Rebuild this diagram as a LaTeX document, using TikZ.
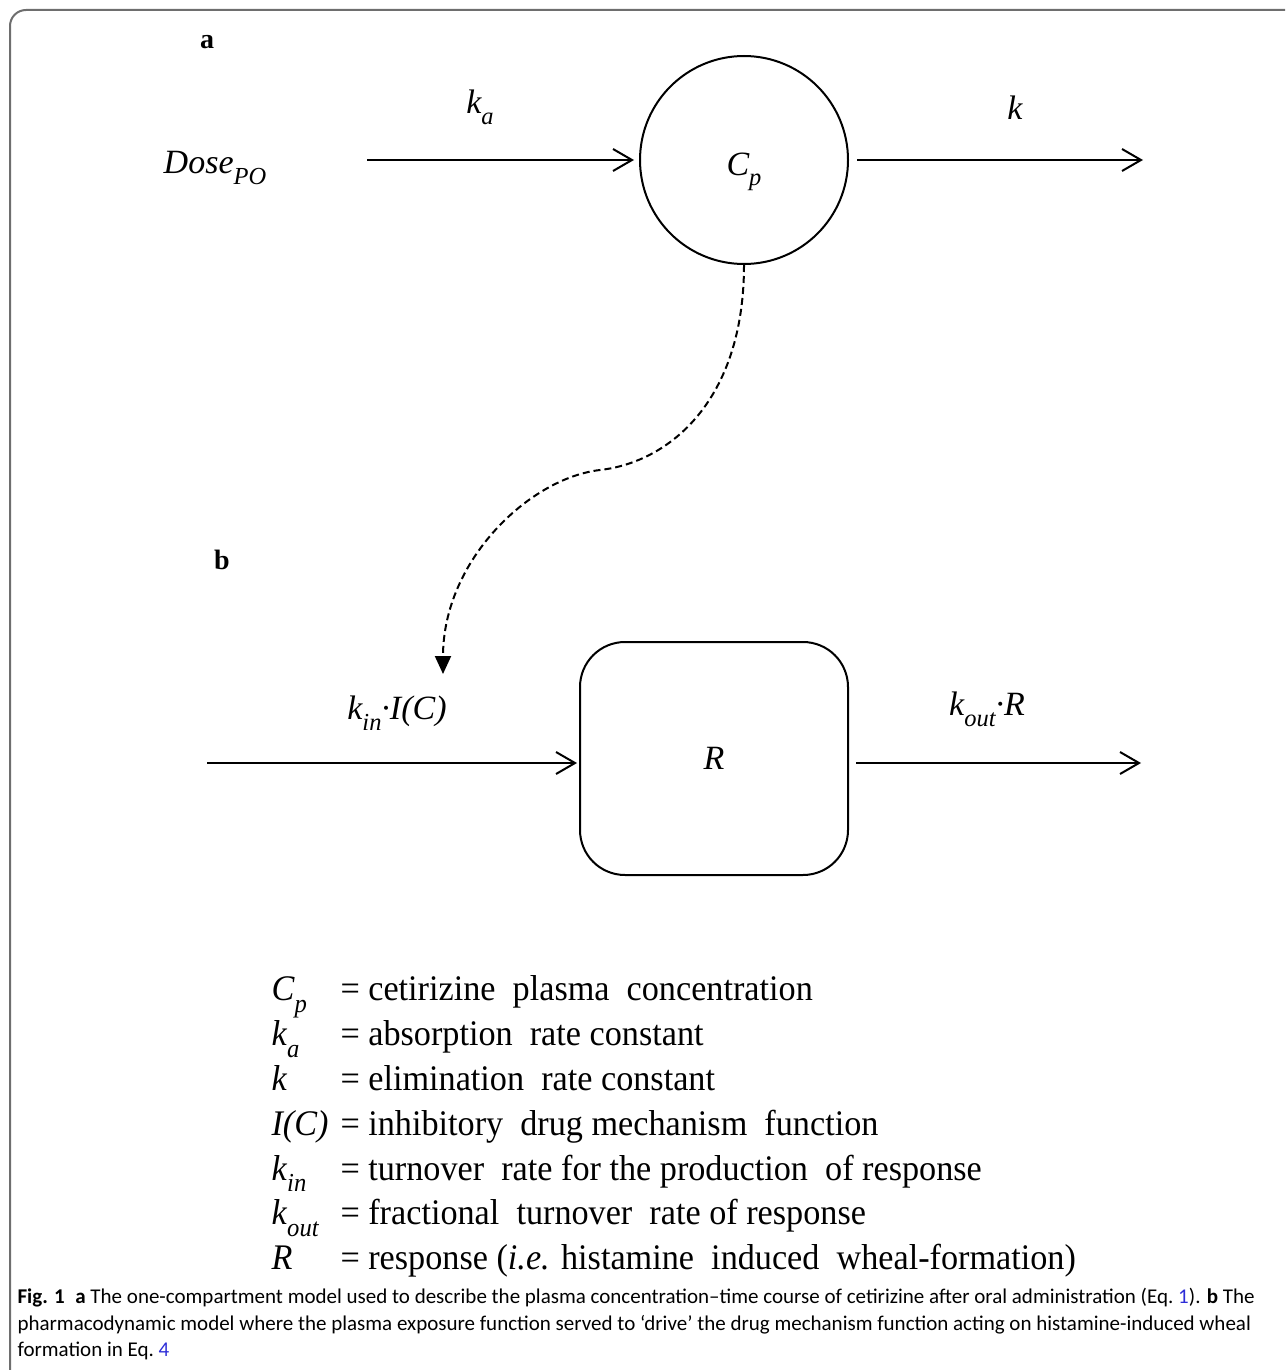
\documentclass[tikz,border=0pt]{standalone}
\usepackage{fontspec}
\setmainfont{Liberation Serif}
\newfontfamily\legfont[FakeStretch=0.95]{Liberation Serif}
\newfontfamily\capfont{Carlito}
\usepackage{xcolor,graphicx}
\usetikzlibrary{arrows.meta}
\definecolor{framegray}{RGB}{110,110,110}
\definecolor{eqblue}{RGB}{45,45,215}
\newcommand{\low}[1]{\raisebox{-0.32em}{\scalebox{0.72}{\itshape #1}}}

\begin{document}
\begin{tikzpicture}[x=1pt,y=-1pt,flow/.style={-{Straight Barb[length=19pt,width=22pt]},line width=2pt},drive/.style={-{Triangle[length=18pt,width=16pt]},line width=2pt,dash pattern=on 7pt off 4pt},lbl/.style={font=\fontsize{34}{40}\selectfont\itshape},tag/.style={font=\fontsize{28}{32}\selectfont\bfseries},font=\fontsize{34}{40}\selectfont]
\useasboundingbox (0,0) rectangle (1285,1370);
\draw[framegray,line width=2pt,rounded corners=16pt] (10,1370) -- (10,10) -- (1285,10);
% part a
\node[tag] (ta) at (207,42) {a};
\node[lbl] (dose) at (215,168) {Dose\low{PO}};
\node[circle,draw,line width=2pt,minimum size=208pt,lbl] (cp) at (744,160) {\raisebox{-15pt}[0pt][0pt]{C\low{p}}};
\coordinate (din) at (367,160);\coordinate (cout) at (1143,160);
\draw[flow,shorten >=5pt] (din) -- (cp);
\draw[flow,shorten <=8pt] (cp) -- (cout);
\node[lbl] (ka) at (480,107) {k\low{a}};\node[lbl] (kel) at (1015,108) {k};
% part b
\node[tag] (tb) at (222,560) {b};
\node[draw,line width=2pt,rounded corners=45pt,minimum width=268pt,minimum height=233pt,lbl] (resp) at (714,758.5) {R};
\coordinate (rin) at (207,763);\coordinate (rout) at (1141,763);
\draw[flow,shorten >=2pt] (rin) -- (rin -| resp.west);
\draw[flow,shorten <=7pt] (rout -| resp.east) -- (rout);
\node[lbl] (kin) at (397,713) {k\low{in}·I(C)};\node[lbl] (kout) at (987,709) {k\low{out}·R};
\coordinate (ihit) at (443,674);
\draw[drive] (cp.south) .. controls (744,400) and (670,462) .. (600,470) .. controls (530,478) and (443,560) .. (ihit);
% legend
\node[anchor=north west,font=\legfont\fontsize{36}{44.8}\selectfont] (legend) at (268,966) {\begin{tabular}{@{}l@{\hspace{12pt}}l@{}}
\textit{C}\smash{\low{p}} & = cetirizine \ plasma \ concentration\\
\textit{k}\smash{\low{a}} & = absorption \ rate constant\\
\textit{k} & = elimination \ rate constant\\
\textit{I(C)} & = inhibitory \ drug mechanism \ function\\
\textit{k}\smash{\low{in}} & = turnover \ rate for the production \ of response\\
\textit{k}\smash{\low{out}} & = fractional \ turnover \ rate of response\\
\textit{R} & = response (\textit{i.e.} histamine \ induced \ wheal-formation)
\end{tabular}};
% caption
\node[anchor=north west,align=left,font=\capfont\fontsize{21}{26.5}\selectfont] (cap) at (14,1285) {\textbf{Fig. 1}\enspace\textbf{a} The one-compartment model used to describe the plasma concentration–time course of cetirizine after oral administration (Eq.~\textcolor{eqblue}{1}). \textbf{b} The\\pharmacodynamic model where the plasma exposure function served to ‘drive’ the drug mechanism function acting on histamine-induced wheal\\formation in Eq.~\textcolor{eqblue}{4}};
\end{tikzpicture}
\end{document}
